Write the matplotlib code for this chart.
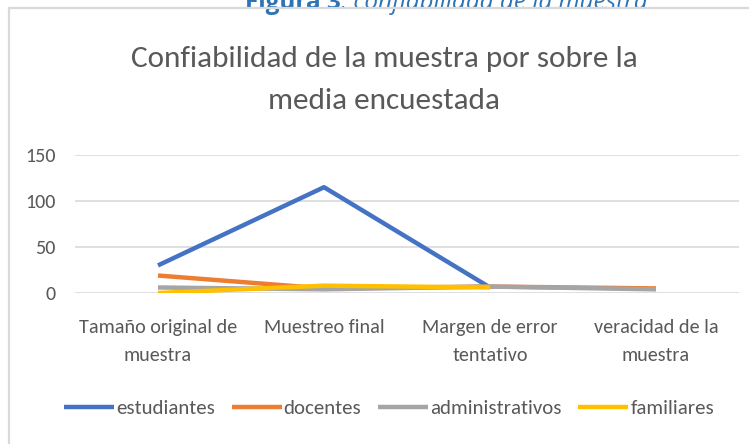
import matplotlib
matplotlib.use("Agg")
import matplotlib.pyplot as plt
from matplotlib.patches import Rectangle
import numpy as np

categories = ["Tamaño original de\nmuestra", "Muestreo final", "Margen de error\ntentativo", "veracidad de la\nmuestra"]
estudiantes = [30, 115, 6, np.nan]
docentes = [19, 5, 7, 5]
administrativos = [6, 4, 7, 4]
familiares = [0, 8, 6, np.nan]
yticks = [0, 50, 100, 150]

series = [("estudiantes", estudiantes, "#4472C4"),
          ("docentes", docentes, "#ED7D31"),
          ("administrativos", administrativos, "#A5A5A5"),
          ("familiares", familiares, "#FFC000")]

plt.rcParams['font.family'] = ['Liberation Sans Narrow', 'Carlito', 'DejaVu Sans']
W, H = 749, 444
fig = plt.figure(figsize=(W/100, H/100), dpi=100)

# chart box border
fig.patches.append(Rectangle((9/W, -0.1), 1.2, 1 - 8/H + 0.1, transform=fig.transFigure,
                             fill=False, edgecolor="#d9d9d9", linewidth=1.6, zorder=5))

# caption (partially cut off at the top, as in the source)
cap_y = 1 - 9/H
cap1 = fig.text(245/W, cap_y, "Figura 3", color="#2E74B5", fontsize=17.5,
                fontweight="bold", family=["Open Sans"], va="baseline", ha="left")
fig.canvas.draw()
bb = cap1.get_window_extent()
fig.text(bb.x1 / W, cap_y, ". confiabilidad de la muestra", color="#2E74B5", fontsize=17.5,
         style="italic", family=["Open Sans"], va="baseline", ha="left")

fig.text(384/W, 1 - 59/H, "Confiabilidad de la muestra por sobre la", ha="center", va="center",
         fontsize=22.5, color="#595959")
fig.text(384/W, 1 - 101/H, "media encuestada", ha="center", va="center",
         fontsize=22.5, color="#595959")

ax = fig.add_axes([75/W, 1 - 293/H, (739-75)/W, (293-155)/H])
x = np.arange(len(categories))
for name, vals, col in series:
    ax.plot(x, vals, color=col, linewidth=3.2, label=name, solid_capstyle="butt", zorder=3)

ax.set_xlim(-0.5, 3.5)
ax.set_ylim(0, 150)
ax.set_yticks(yticks)
ax.set_yticklabels([str(v) for v in yticks], fontsize=14.5, color="#595959")
ax.yaxis.grid(True, color="#d9d9d9", linewidth=1.2)
ax.set_axisbelow(True)
for s in ax.spines.values():
    s.set_visible(False)
ax.tick_params(axis="y", length=0, pad=14)
ax.tick_params(axis="x", length=0, pad=19)
ax.set_xticks(x)
ax.set_xticklabels(categories, fontsize=14.5, color="#595959", linespacing=1.75)

leg = fig.legend(loc="center", bbox_to_anchor=(389/W, 1 - 408/H), ncol=4, frameon=False,
                 fontsize=15, handlelength=2.4, handletextpad=0.1, columnspacing=0.8)
for t in leg.get_texts():
    t.set_color("#595959")

fig.savefig("out.png", dpi=100)
